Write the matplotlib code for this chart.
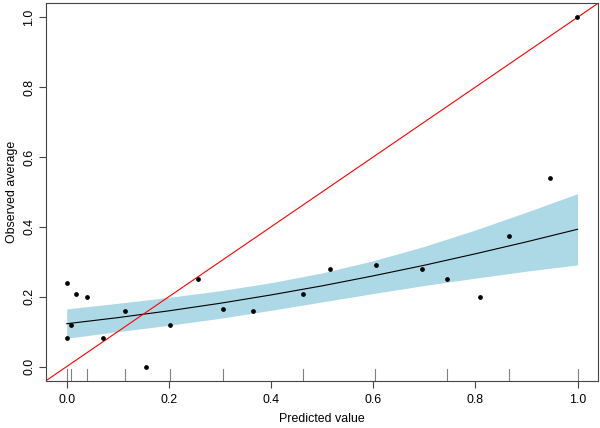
import numpy as np
import matplotlib
matplotlib.use("Agg")
import matplotlib.pyplot as plt

plt.rcParams['font.family'] = ['Liberation Sans', 'DejaVu Sans']

# observed points (predicted value, observed average)
pred = [0.0, 0.0, 0.008, 0.019, 0.0405, 0.071, 0.115, 0.155, 0.203, 0.256, 0.305,
        0.365, 0.462, 0.515, 0.606, 0.695, 0.744, 0.809, 0.865, 0.947, 0.9994]
obs = [0.239, 0.083, 0.120, 0.208, 0.199, 0.083, 0.159, 0.0, 0.120, 0.250, 0.166,
       0.160, 0.208, 0.279, 0.292, 0.279, 0.250, 0.199, 0.375, 0.541, 1.0]

# fitted curve and confidence band
fit_x = [0.0, 0.1, 0.2, 0.3, 0.4, 0.5, 0.6, 0.7, 0.8, 0.9, 1.0]
fit_y = [0.1225, 0.140, 0.1595, 0.181, 0.205, 0.231, 0.2596, 0.290, 0.3228, 0.357, 0.393]
band_hi = [0.165, 0.181, 0.198, 0.217, 0.240, 0.268, 0.303, 0.344, 0.391, 0.442, 0.495]
band_lo = [0.081, 0.100, 0.118, 0.138, 0.161, 0.185, 0.209, 0.232, 0.253, 0.273, 0.291]

# rug marks along the x axis
rug_x = [0.0, 0.008, 0.0405, 0.115, 0.203, 0.305, 0.462, 0.604, 0.745, 0.865, 1.0]

ticks = [0.0, 0.2, 0.4, 0.6, 0.8, 1.0]
tick_labels = ['0.0', '0.2', '0.4', '0.6', '0.8', '1.0']

fs = 8.9

fig = plt.figure(figsize=(6, 4.28), dpi=100)
ax = fig.add_axes([46.3 / 600, (428 - 380.5) / 428, (598 - 46.3) / 600, (380.5 - 3.3) / 428])

ax.fill_between(fit_x, band_lo, band_hi, color='#ADD8E6', linewidth=0)
ax.plot(fit_x, fit_y, color='black', linewidth=0.8)
ax.axline((0, 0), (1, 1), color='red', linewidth=0.8)
ax.plot(pred, obs, 'o', color='black', markersize=2.4)

for rx in rug_x:
    ax.axvline(rx, ymin=0, ymax=0.03, color='#808080', linewidth=0.8)

ax.set_xlim(-0.04, 1.04)
ax.set_ylim(-0.04, 1.04)
ax.set_xticks(ticks)
ax.set_xticklabels(tick_labels)
ax.set_yticks(ticks)
ax.set_yticklabels(tick_labels, rotation=90, va='center')
ax.tick_params(direction='out', length=5, width=0.8, color='#444444', labelsize=fs)
ax.tick_params(axis='x', pad=4.5)
ax.tick_params(axis='y', pad=3)

for s in ax.spines.values():
    s.set_color('#444444')
    s.set_linewidth(0.8)

ax.set_xlabel('Predicted value', fontsize=fs, labelpad=5)
ax.set_ylabel('Observed average', fontsize=fs, labelpad=4)

fig.savefig('out.png', dpi=100)
